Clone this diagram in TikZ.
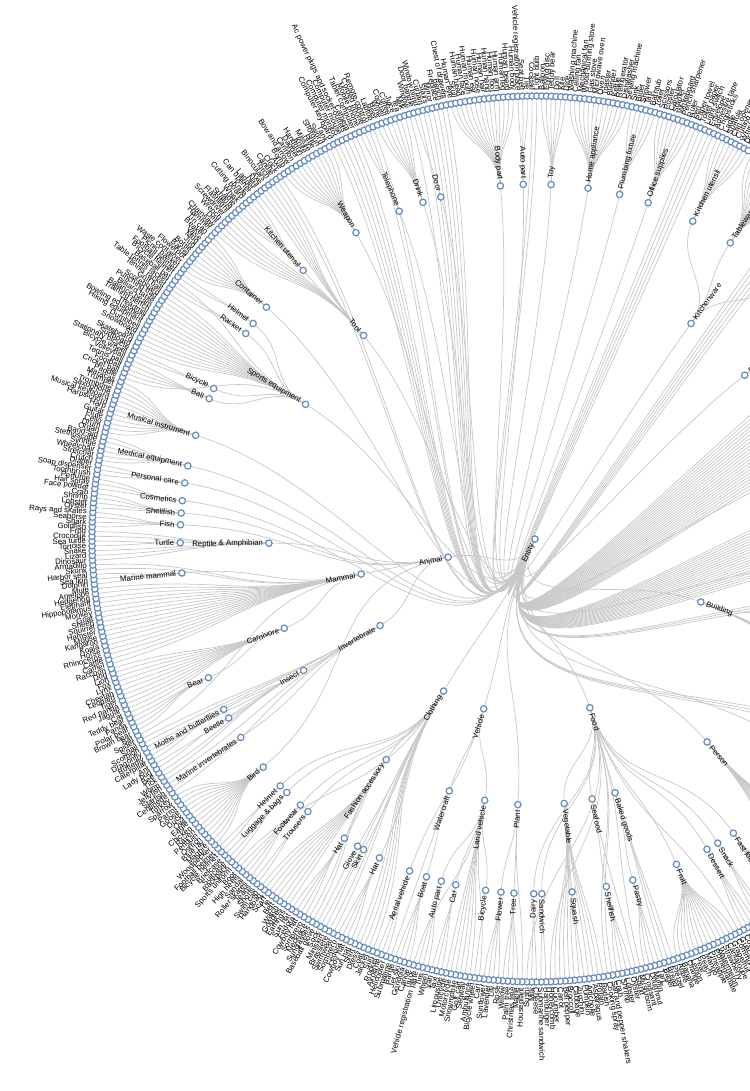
\documentclass[tikz,border=0pt]{standalone}
\usepackage{fontspec}
\setmainfont{Liberation Sans}
\definecolor{dotc}{RGB}{100,140,188}
\definecolor{linkc}{RGB}{200,200,200}
\tikzset{
  dot/.style={circle,draw=dotc,fill=white,line width=1.2pt,minimum size=6.4pt,inner sep=0pt},
  lab/.style={inner sep=0pt,outer sep=0pt,font=\fontsize{7.8}{9}\selectfont,text=black},
  link/.style={draw=linkc,line width=0.7pt}
}
\def\Rl{443}
\def\St{0.62}
\def\Az{150.07}
\newcount\leafk
\newcount\hidk
\newif\ifpassone
\newcommand\putlabel[4]{%
  \pgfmathsetmacro\na{mod(#1,360)}%
  \ifdim\na pt<180pt
    \node[lab,anchor=west,rotate={90-\na}] (#4) at ({90-\na}:{#2+6}) {#3};%
  \else
    \node[lab,anchor=east,rotate={270-\na}] (#4) at ({90-\na}:{#2+6}) {#3};%
  \fi}
\newcommand\radlink[6]{%
  \draw[link] (#1) .. controls ({90-(#2)}:{((#3)+(#6))/2}) and ({90-(#5)}:{((#3)+(#6))/2}) .. (#4);}
\newcommand\inode[7]{%
  \ifpassone
    \coordinate (#1) at ({90-(#2)}:#3);
    \radlink{#5}{#6}{#7}{#1}{#2}{#3}%
  \else
    \node[dot] (#1) at ({90-(#2)}:#3) {};
    \putlabel{#2}{#3}{#4}{t#1}%
  \fi}
\newcommand\hnode[6]{%
  \ifpassone
    \coordinate (#1) at ({90-(#2)}:#3);
    \radlink{#4}{#5}{#6}{#1}{#2}{#3}%
  \fi}
\newcommand\grp[4]{%
  \foreach \lab in {#4}{%
    \pgfmathsetmacro\la{\Az+\the\leafk*\St}%
    \edef\nm{lf\the\leafk}%
    \ifpassone
      \coordinate (\nm) at ({90-\la}:\Rl);
      \radlink{#1}{#2}{#3}{\nm}{\la}{\Rl}%
    \else
      \node[dot] (\nm) at ({90-\la}:\Rl) {};
      \putlabel{\la}{\Rl}{\lab}{t\nm}%
    \fi
    \global\advance\leafk by 1\relax
  }}
\newcommand\hfan[5]{%
  \ifpassone
  \foreach \i in {0,...,#5}{%
    \pgfmathsetmacro\la{#4+\i*\St}%
    \global\advance\hidk by 1\relax
    \edef\nm{hc\the\hidk}%
    \coordinate (\nm) at ({90-\la}:\Rl);
    \radlink{#1}{#2}{#3}{\nm}{\la}{\Rl}%
  }%
  \fi}
\newcommand\TreeBody{%
\ifpassone
  \coordinate (Entity) at (0,0);
\else
  \node[dot] (Entity) at (0,0) {};
  \putlabel{205}{0}{Entity}{tEntity}%
\fi
\inode{Animal}{258.2}{88.7}{Animal}{Entity}{205}{0}
\inode{Mammal}{258.6}{177.4}{Mammal}{Animal}{258.2}{88.7}
\inode{Invert}{240.8}{177.4}{Invertebrate}{Animal}{258.2}{88.7}
\inode{Clothing}{211}{177.4}{Clothing}{Entity}{205}{0}
\inode{Vehicle}{196.8}{177.4}{Vehicle}{Entity}{205}{0}
\inode{Food}{162}{177.4}{Food}{Entity}{205}{0}
\inode{Building}{110.8}{177.4}{Building}{Entity}{205}{0}
\inode{Carnivore}{250.4}{266.1}{Carnivore}{Mammal}{258.6}{177.4}
\inode{Insect}{240.4}{266.1}{Insect}{Invert}{240.8}{177.4}
\inode{Reptile}{269.1}{266.1}{Reptile \& Amphibian}{Animal}{258.2}{88.7}
\inode{SportsEq}{300.4}{266.1}{Sports equipment}{Entity}{205}{0}
\inode{Tool}{319.9}{266.1}{Tool}{Entity}{205}{0}
\inode{Kitchenware}{35.9}{266.1}{Kitchenware}{Entity}{205}{0}
\inode{Furniture}{52}{266.1}{Furniture}{Entity}{205}{0}
\inode{Person}{139.7}{266.1}{Person}{Entity}{205}{0}
\inode{FashionAcc}{214}{266.1}{Fashion accessory}{Clothing}{211}{177.4}
\inode{LandV}{190.9}{266.1}{Land vehicle}{Vehicle}{196.8}{177.4}
\inode{Watercraft}{198.8}{266.1}{Watercraft}{Vehicle}{196.8}{177.4}
\inode{Plant}{183.7}{266.1}{Plant}{Entity}{205}{0}
\inode{Vegetable}{173.7}{266.1}{Vegetable}{Food}{162}{177.4}
\inode{Seafood}{167.6}{266.1}{Seafood}{Food}{162}{177.4}
\inode{BakedGoods}{162.5}{266.1}{Baked goods}{Food}{162}{177.4}
\inode{BodyPart}{354.4}{354.8}{Body part}{Entity}{205}{0}
\inode{AutoPartA}{358.1}{354.8}{Auto part}{Entity}{205}{0}
\inode{Toy}{2.6}{354.8}{Toy}{Entity}{205}{0}
\inode{HomeApp}{8.6}{354.8}{Home appliance}{Entity}{205}{0}
\inode{Plumbing}{13.8}{354.8}{Plumbing fixture}{Entity}{205}{0}
\inode{Office}{18.6}{354.8}{Office supplies}{Entity}{205}{0}
\inode{KUtensilB}{26.4}{354.8}{Kitchen utensil}{Kitchenware}{35.9}{266.1}
\inode{Tableware}{33.4}{354.8}{Tableware}{Kitchenware}{35.9}{266.1}
\inode{FastFood}{146}{354.8}{Fast food}{Food}{162}{177.4}
\inode{Snack}{149}{354.8}{Snack}{Food}{162}{177.4}
\inode{Dessert}{151}{354.8}{Dessert}{Food}{162}{177.4}
\inode{Fruit}{156.5}{354.8}{Fruit}{Food}{162}{177.4}
\inode{Pastry}{164}{354.8}{Pastry}{BakedGoods}{162.5}{266.1}
\inode{ShellfishB}{168.4}{354.8}{Shellfish}{Seafood}{167.6}{266.1}
\inode{Squash}{174}{354.8}{Squash}{Vegetable}{173.7}{266.1}
\inode{Sandwich}{178.9}{354.8}{Sandwich}{Food}{162}{177.4}
\inode{Dairy}{180.2}{354.8}{Dairy}{Food}{162}{177.4}
\inode{Tree}{183.4}{354.8}{Tree}{Plant}{183.7}{266.1}
\inode{Flower}{185.5}{354.8}{Flower}{Plant}{183.7}{266.1}
\inode{BicycleB}{188}{354.8}{Bicycle}{LandV}{190.9}{266.1}
\inode{Car}{192.9}{354.8}{Car}{LandV}{190.9}{266.1}
\inode{AutoPartB}{195.3}{354.8}{Auto part}{LandV}{190.9}{266.1}
\inode{Boat}{197.8}{354.8}{Boat}{Watercraft}{198.8}{266.1}
\inode{Aerial}{200.7}{354.8}{Aerial vehicle}{Vehicle}{196.8}{177.4}
\inode{HatA}{206}{354.8}{Hat}{Clothing}{211}{177.4}
\inode{Skirt}{208.9}{354.8}{Skirt}{Clothing}{211}{177.4}
\inode{Glove}{210}{354.8}{Glove}{Clothing}{211}{177.4}
\inode{HatB}{212.5}{354.8}{Hat}{FashionAcc}{214}{266.1}
\inode{Trousers}{219.8}{354.8}{Trousers}{Clothing}{211}{177.4}
\inode{Footwear}{221.4}{354.8}{Footwear}{Clothing}{211}{177.4}
\inode{Luggage}{224.4}{354.8}{Luggage \& bags}{Clothing}{211}{177.4}
\inode{HelmetA}{225.9}{354.8}{Helmet}{Clothing}{211}{177.4}
\inode{Bird}{230}{354.8}{Bird}{Animal}{258.2}{88.7}
\inode{MarineInv}{236}{354.8}{Marine invertebrates}{Invert}{240.8}{177.4}
\inode{Beetle}{239.7}{354.8}{Beetle}{Insect}{240.4}{266.1}
\inode{Moths}{241.3}{354.8}{Moths and butterflies}{Insect}{240.4}{266.1}
\inode{Bear}{247}{354.8}{Bear}{Carnivore}{250.4}{266.1}
\inode{MarineMam}{264.5}{354.8}{Marine mammal}{Mammal}{258.6}{177.4}
\inode{Turtle}{269.4}{354.8}{Turtle}{Reptile}{269.1}{266.1}
\inode{Fish}{272.3}{354.8}{Fish}{Animal}{258.2}{88.7}
\inode{ShellfishA}{274.2}{354.8}{Shellfish}{Animal}{258.2}{88.7}
\inode{Cosmetics}{276.2}{354.8}{Cosmetics}{Entity}{205}{0}
\inode{PersonalCare}{279.1}{354.8}{Personal care}{Entity}{205}{0}
\inode{Medical}{281.9}{354.8}{Medical equipment}{Entity}{205}{0}
\inode{Musical}{287}{354.8}{Musical instrument}{Entity}{205}{0}
\inode{Ball}{293.3}{354.8}{Ball}{SportsEq}{300.4}{266.1}
\inode{BicycleA}{295.1}{354.8}{Bicycle}{SportsEq}{300.4}{266.1}
\inode{Racket}{305.4}{354.8}{Racket}{SportsEq}{300.4}{266.1}
\inode{HelmetB}{307.4}{354.8}{Helmet}{SportsEq}{300.4}{266.1}
\inode{Container}{310.8}{354.8}{Container}{Entity}{205}{0}
\inode{KUtensilA}{319.2}{354.8}{Kitchen utensil}{Tool}{319.9}{266.1}
\inode{Weapon}{329.7}{354.8}{Weapon}{Entity}{205}{0}
\inode{Telephone}{337.5}{354.8}{Telephone}{Entity}{205}{0}
\inode{Drink}{341.6}{354.8}{Drink}{Entity}{205}{0}
\inode{Door}{344.6}{354.8}{Door}{Entity}{205}{0}
\hnode{Cookware}{43.4}{354.8}{Kitchenware}{35.9}{266.1}
\hnode{FurnL4}{53.7}{354.8}{Furniture}{52}{266.1}
\hnode{GA}{73.6}{354.8}{Entity}{205}{0}
\hnode{GB}{92.9}{354.8}{Entity}{205}{0}
\hnode{GC}{128.5}{354.8}{Entity}{205}{0}
\hnode{BuildL3}{108}{266.1}{Building}{110.8}{177.4}
\hnode{BuildL4}{105.7}{354.8}{BuildL3}{108}{266.1}
\hfan{Tableware}{33.4}{354.8}{29.4}{13}
\hfan{Entity}{205}{0}{38.1}{4}
\hfan{Cookware}{43.4}{354.8}{41.2}{7}
\hfan{Furniture}{52}{266.1}{46.2}{7}
\hfan{FurnL4}{53.7}{354.8}{51.2}{7}
\hfan{Entity}{205}{0}{56.2}{21}
\hfan{GA}{73.6}{354.8}{69.9}{12}
\hfan{Entity}{205}{0}{78}{19}
\hfan{GB}{92.9}{354.8}{90.4}{8}
\hfan{Entity}{205}{0}{96}{2}
\hfan{BuildL4}{105.7}{354.8}{100.4}{17}
\hfan{BuildL3}{108}{266.1}{111.6}{3}
\hfan{Building}{110.8}{177.4}{114.2}{9}
\hfan{Entity}{205}{0}{120.4}{2}
\hfan{GC}{128.5}{354.8}{122.3}{20}
\hfan{Person}{139.7}{266.1}{135.9}{10}
\hfan{FastFood}{146}{354.8}{142.8}{8}
\hfan{Snack}{149}{354.8}{148.4}{2}
\grp{Dessert}{151}{354.8}{Candy,Cake,Ice cream,Cookie}
\grp{Food}{162}{177.4}{Guacamole}
\grp{Fruit}{156.5}{354.8}{Common fig,Grapefruit,Cantaloupe,Strawberry,Watermelon,Pomegranate,Pineapple,Mango,Peach,Pear,Lemon,Orange,Banana,Apple}
\grp{BakedGoods}{162.5}{266.1}{Pretzel,Bread,Bagel}
\grp{Pastry}{164}{354.8}{Tart,Muffin,Doughnut,Croissant}
\grp{Food}{162}{177.4}{Mushroom}
\grp{Seafood}{167.6}{266.1}{Squid}
\grp{ShellfishB}{168.4}{354.8}{Oyster,Lobster,Shrimp,Crab}
\grp{Food}{162}{177.4}{Salt and pepper shakers,Cooking spray}
\grp{Vegetable}{173.7}{266.1}{Radish,Potato,Asparagus,Artichoke}
\grp{Squash}{174}{354.8}{Pumpkin,Zucchini}
\grp{Vegetable}{173.7}{266.1}{Cabbage,Broccoli,Bell pepper,Carrot,Cucumber}
\grp{Food}{162}{177.4}{Honeycomb}
\grp{Sandwich}{178.9}{354.8}{Hamburger,Submarine sandwich}
\grp{Dairy}{180.2}{354.8}{Cheese,Milk}
\grp{Food}{162}{177.4}{Sushi}
\grp{Plant}{183.7}{266.1}{Houseplant}
\grp{Tree}{183.4}{354.8}{Maple,Christmas tree,Palm tree,Willow}
\grp{Flower}{185.5}{354.8}{Rose,Lily,Lavender,Sunflower}
\grp{LandV}{190.9}{266.1}{Cart}
\grp{BicycleB}{188}{354.8}{Bicycle wheel}
\grp{LandV}{190.9}{266.1}{Ambulance,Segway,Golf cart,Snowmobile,Motorcycle,Unicycle}
\grp{Car}{192.9}{354.8}{Limousine,Taxi,Van}
\grp{AutoPartB}{195.3}{354.8}{Wheel,Tire,Vehicle registration plate}
\grp{LandV}{190.9}{266.1}{Truck}
\grp{Boat}{197.8}{354.8}{Canoe,Gondola,Jet ski,Barge}
\grp{Watercraft}{198.8}{266.1}{Submarine}
\grp{Aerial}{200.7}{354.8}{Helicopter,Airplane,Rocket}
\grp{Clothing}{211}{177.4}{Suit,Jacket,Coat,Dress,Shirt}
\grp{HatA}{206}{354.8}{Sun hat,Cowboy hat,Fedora,Sombrero}
\grp{Clothing}{211}{177.4}{Swimwear,Brassiere}
\grp{Skirt}{208.9}{354.8}{Miniskirt}
\grp{Clothing}{211}{177.4}{Sock}
\grp{Glove}{210}{354.8}{Baseball glove}
\grp{FashionAcc}{214}{266.1}{Sunglasses,Necklace}
\grp{HatB}{212.5}{354.8}{Sombrero,Cowboy hat,Fedora,Sun hat}
\grp{FashionAcc}{214}{266.1}{Earrings,Goggles,Watch,Belt,Tie,Scarf,Handbag,Swim cap}
\grp{Trousers}{219.8}{354.8}{Shorts,Jeans}
\grp{Footwear}{221.4}{354.8}{Roller skates,Sandal,High heels,Boot}
\grp{Clothing}{211}{177.4}{Sports uniform}
\grp{Luggage}{224.4}{354.8}{Backpack,Suitcase,Briefcase}
\grp{HelmetA}{225.9}{354.8}{Bicycle helmet,Football helmet}
\grp{Bird}{230}{354.8}{Woodpecker,Magpie,Blue jay,Ostrich,Penguin,Raven,Chicken,Eagle,Owl,Duck,Goose,Parrot,Sparrow,Turkey}
\grp{Invert}{240.8}{177.4}{Centipede}
\grp{MarineInv}{236}{354.8}{Starfish,Jellyfish}
\grp{Invert}{240.8}{177.4}{Worm}
\grp{Insect}{240.4}{266.1}{Tick,Bee}
\grp{Beetle}{239.7}{354.8}{Lady bug}
\grp{Insect}{240.4}{266.1}{Ant}
\grp{Moths}{241.3}{354.8}{Caterpillar,Butterfly}
\grp{Insect}{240.4}{266.1}{Dragonfly}
\grp{Invert}{240.8}{177.4}{Scorpion,Snail,Spider}
\grp{Mammal}{258.6}{177.4}{Bat}
\grp{Bear}{247}{354.8}{Brown bear,Polar bear,Panda,Teddy bear}
\grp{Carnivore}{250.4}{266.1}{Cat,Jaguar,Red panda,Tiger,Leopard,Cheetah,Lynx,Fox,Lion,Dog,Raccoon}
\grp{Mammal}{258.6}{177.4}{Camel,Cattle,Rhinoceros,Horse,Koala,Kangaroo,Mouse,Hamster,Squirrel,Sheep,Goat,Monkey,Hippopotamus,Elephant,Hedgehog,Antelope,Mule}
\grp{MarineMam}{264.5}{354.8}{Dolphin,Sea lion,Harbor seal}
\grp{Mammal}{258.6}{177.4}{Skunk,Armadillo}
\grp{Reptile}{269.1}{266.1}{Dinosaur,Lizard,Snake}
\grp{Turtle}{269.4}{354.8}{Tortoise,Sea turtle}
\grp{Reptile}{269.1}{266.1}{Crocodile,Frog}
\grp{Fish}{272.3}{354.8}{Goldfish,Shark,Seahorse,Rays and skates}
\grp{ShellfishA}{274.2}{354.8}{Oyster,Lobster,Shrimp,Crab}
\grp{Cosmetics}{276.2}{354.8}{Face powder,Hair spray,Perfume}
\grp{PersonalCare}{279.1}{354.8}{Toothbrush,Soap dispenser,Diaper}
\grp{Medical}{281.9}{354.8}{Crutch,Stretcher,Wheelchair,Syringe,Stethoscope,Band-aid}
\grp{Musical}{287}{354.8}{Organ,Drum,Cello,Flute,Guitar,Harp,Harpsichord,Musical keyboard,Saxophone,Trombone,Trumpet,Maracas}
\grp{SportsEq}{300.4}{266.1}{Paddle}
\grp{Ball}{293.3}{354.8}{Cricket ball,Football,Tennis ball,Volleyball}
\grp{BicycleA}{295.1}{354.8}{Bicycle wheel,Stationary bicycle}
\grp{SportsEq}{300.4}{266.1}{Surfboard,Skateboard,Ski,Snowboard,Dumbbell,Hiking equipment,Bowling equipment,Treadmill,Training bench,Balance beam,Billiard table,Punching bag,Scoreboard,Golf ball}
\grp{Racket}{305.4}{354.8}{Tennis racket,Table tennis racket}
\grp{SportsEq}{300.4}{266.1}{Baseball bat}
\grp{HelmetB}{307.4}{354.8}{Bicycle helmet,Football helmet}
\grp{Container}{310.8}{354.8}{Picnic basket,Waste container,Flowerpot,Barrel,Bottle,Jug,Mug,Vase,Beaker,Tin can}
\grp{Tool}{319.9}{266.1}{Hammer,Chainsaw,Drill,Wrench,Screwdriver,Flashlight}
\grp{KUtensilA}{319.2}{354.8}{Spatula,Ladle,Whisk,Cutting board,Knife,Can opener}
\grp{Tool}{319.9}{266.1}{Ladder,Nail,Axe,Binoculars,Torch}
\grp{Entity}{205}{0}{Candle,Clock}
\grp{Weapon}{329.7}{354.8}{Axe,Bomb,Bow and arrow,Cannon,Dagger,Handgun,Knife,Missile,Rifle,Shotgun,Sword,Tank}
\grp{Entity}{205}{0}{Computer keyboard,Computer monitor,Computer mouse,Ac power plugs and socket-outlets,Camera,Tablet computer}
\grp{Telephone}{337.5}{354.8}{Mobile phone,Corded phone}
\grp{Entity}{205}{0}{Remote control,Laptop}
\grp{Drink}{341.6}{354.8}{Beer,Wine,Cocktail,Coffee,Juice,Tea,Milk}
\grp{Entity}{205}{0}{Window}
\grp{Door}{344.6}{354.8}{Door handle}
\grp{Entity}{205}{0}{Window blind,Curtain,Stairs,Mirror,Fireplace,Bench,Chest of drawers}
\grp{BodyPart}{354.4}{354.8}{Human eye,Skull,Human head,Human face,Human mouth,Human ear,Human nose,Human hair,Human hand,Human foot,Human arm,Human leg,Human beard,Human body}
\grp{AutoPartA}{358.1}{354.8}{Vehicle registration plate,Seat belt,Tire}
\grp{Entity}{205}{0}{Cocktail,Light bulb}
\grp{Toy}{362.6}{354.8}{Balloon,Flying disc,Teddy bear,Doll,Kite,Dice}
\grp{HomeApp}{368.6}{354.8}{Washing machine,Ceiling fan,Mechanical fan,Wood-burning stove,Gas stove,Microwave oven,Oven,Toaster,Blender,Kettle,Refrigerator,Dishwasher,Sewing machine}
\grp{Plumbing}{373.8}{354.8}{Sink,Bidet,Shower,Tap,Bathtub,Toilet}
\grp{Office}{378.6}{354.8}{Scissors,Poster,Calculator,Stapler,Whiteboard,Pencil sharpener,Ruler,Pen}
\grp{Entity}{205}{0}{Paper towel,Toilet paper,Light switch,Envelope,Adhesive tape}
\grp{KUtensilB}{386.4}{354.8}{Chopsticks,Ladle,Spatula,Can opener,Cutting board,Whisk,Drinking straw,Bottle opener}
}
\begin{document}
\begin{tikzpicture}[x=1pt,y=1pt]
\useasboundingbox (-535,-552) rectangle (214,539);
\fill[white] (-535,-552) rectangle (214,539);
\passonetrue
\global\leafk=0 \global\hidk=0
\TreeBody
\passonefalse
\global\leafk=0 \global\hidk=0
\TreeBody
\end{tikzpicture}
\end{document}
